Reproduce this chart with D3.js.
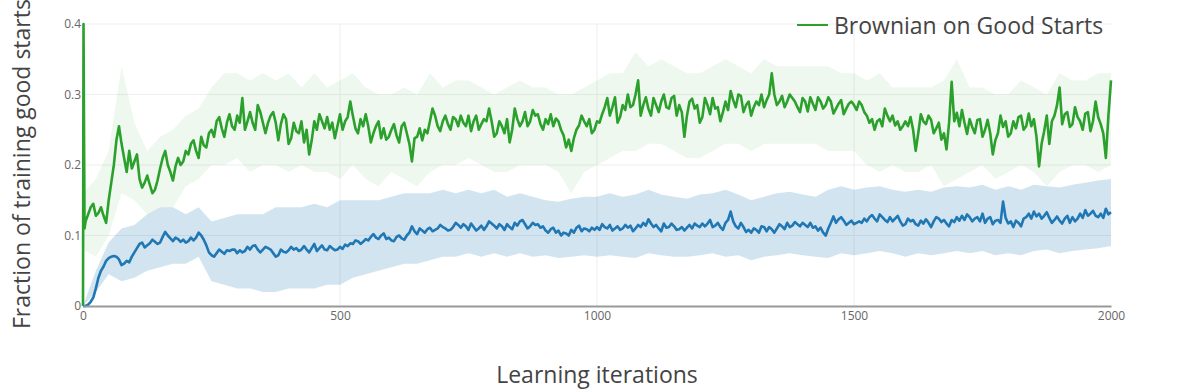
<!DOCTYPE html>
<html>
<head>
<meta charset="utf-8">
<script src="https://cdn.jsdelivr.net/npm/d3@7"></script>
<style>
  body { margin: 0; background: #fff; }
  text { font-family: "Open Sans", sans-serif; }
</style>
</head>
<body>
<div id="chart"></div>
<script>
// first few iterations
const headIters = [0, 1, 3];
const greenHead = [0, 0.4, 0.11];
const blueHead = [0, 0, 0];

// mean values at iterations 10, 20, ... 2000
const greenMean = [
  0.13, 0.145, 0.132, 0.128, 0.15, 0.2, 0.255, 0.21, 0.22, 0.205,
  0.18, 0.175, 0.172, 0.165, 0.195, 0.22, 0.19, 0.198, 0.2, 0.22,
  0.23, 0.22, 0.24, 0.225, 0.25, 0.262, 0.252, 0.26, 0.255, 0.27,
  0.295, 0.262, 0.26, 0.285, 0.26, 0.26, 0.275, 0.235, 0.272, 0.23,
  0.26, 0.245, 0.232, 0.215, 0.262, 0.272, 0.252, 0.25, 0.238, 0.272,
  0.262, 0.29, 0.252, 0.265, 0.272, 0.232, 0.255, 0.238, 0.236, 0.25,
  0.242, 0.255, 0.245, 0.205, 0.24, 0.235, 0.245, 0.28, 0.255, 0.262,
  0.258, 0.268, 0.255, 0.26, 0.27, 0.262, 0.25, 0.265, 0.28, 0.24,
  0.262, 0.245, 0.232, 0.28, 0.255, 0.275, 0.262, 0.27, 0.258, 0.265,
  0.272, 0.266, 0.25, 0.225, 0.22, 0.25, 0.27, 0.255, 0.245, 0.262,
  0.272, 0.295, 0.282, 0.26, 0.285, 0.3, 0.285, 0.32, 0.285, 0.28,
  0.295, 0.275, 0.3, 0.28, 0.298, 0.285, 0.24, 0.29, 0.28, 0.26,
  0.295, 0.272, 0.28, 0.262, 0.29, 0.305, 0.282, 0.298, 0.285, 0.27,
  0.29, 0.3, 0.292, 0.33, 0.285, 0.298, 0.29, 0.295, 0.282, 0.295,
  0.276, 0.287, 0.296, 0.28, 0.296, 0.273, 0.287, 0.272, 0.287, 0.285,
  0.29, 0.275, 0.26, 0.25, 0.265, 0.28, 0.262, 0.256, 0.25, 0.262,
  0.268, 0.22, 0.272, 0.258, 0.264, 0.252, 0.236, 0.222, 0.318, 0.274,
  0.278, 0.244, 0.254, 0.264, 0.24, 0.264, 0.215, 0.245, 0.254, 0.24,
  0.262, 0.268, 0.25, 0.273, 0.265, 0.198, 0.248, 0.23, 0.27, 0.31,
  0.272, 0.254, 0.282, 0.262, 0.273, 0.248, 0.29, 0.258, 0.21, 0.32
];
// in-between readings at iterations 5, 15, ... 1995
const greenMid = [
  0.12, 0.14, 0.128, 0.14, 0.118, 0.175, 0.235, 0.23, 0.19, 0.195,
  0.215, 0.168, 0.185, 0.16, 0.178, 0.21, 0.2, 0.178, 0.21, 0.205,
  0.215, 0.235, 0.21, 0.228, 0.245, 0.24, 0.268, 0.24, 0.272, 0.25,
  0.26, 0.25, 0.275, 0.25, 0.275, 0.245, 0.27, 0.26, 0.258, 0.265,
  0.238, 0.248, 0.262, 0.25, 0.235, 0.25, 0.262, 0.268, 0.26, 0.255,
  0.25, 0.268, 0.27, 0.245, 0.255, 0.255, 0.245, 0.262, 0.252, 0.24,
  0.258, 0.232, 0.26, 0.23, 0.238, 0.252, 0.25, 0.262, 0.27, 0.248,
  0.27, 0.25, 0.265, 0.27, 0.255, 0.248, 0.27, 0.258, 0.262, 0.262,
  0.245, 0.255, 0.265, 0.25, 0.265, 0.262, 0.255, 0.278, 0.272, 0.25,
  0.258, 0.255, 0.262, 0.242, 0.236, 0.238, 0.256, 0.262, 0.265, 0.25,
  0.26, 0.282, 0.27, 0.296, 0.268, 0.278, 0.282, 0.3, 0.27, 0.296,
  0.27, 0.285, 0.29, 0.282, 0.295, 0.27, 0.275, 0.27, 0.294, 0.285,
  0.268, 0.285, 0.295, 0.282, 0.275, 0.278, 0.292, 0.3, 0.275, 0.29,
  0.282, 0.285, 0.282, 0.3, 0.3, 0.29, 0.282, 0.3, 0.29, 0.275,
  0.29, 0.296, 0.278, 0.29, 0.285, 0.29, 0.28, 0.292, 0.28, 0.29,
  0.278, 0.285, 0.27, 0.265, 0.262, 0.255, 0.27, 0.27, 0.262, 0.255,
  0.255, 0.25, 0.245, 0.262, 0.27, 0.245, 0.26, 0.245, 0.26, 0.262,
  0.255, 0.26, 0.265, 0.245, 0.265, 0.25, 0.245, 0.235, 0.27, 0.262,
  0.245, 0.252, 0.27, 0.255, 0.255, 0.24, 0.23, 0.27, 0.262, 0.285,
  0.258, 0.275, 0.258, 0.268, 0.25, 0.275, 0.262, 0.268, 0.245, 0.27
];
const blueMean = [
  0.002, 0.012, 0.04, 0.056, 0.068, 0.071, 0.066, 0.06, 0.062, 0.076,
  0.088, 0.083, 0.089, 0.091, 0.09, 0.105, 0.096, 0.097, 0.091, 0.09,
  0.097, 0.097, 0.1, 0.086, 0.072, 0.075, 0.077, 0.079, 0.08, 0.075,
  0.076, 0.084, 0.085, 0.08, 0.08, 0.082, 0.075, 0.072, 0.077, 0.079,
  0.08, 0.078, 0.085, 0.076, 0.088, 0.082, 0.08, 0.085, 0.079, 0.084,
  0.087, 0.089, 0.093, 0.088, 0.095, 0.098, 0.097, 0.1, 0.095, 0.093,
  0.098, 0.096, 0.1, 0.113, 0.102, 0.107, 0.109, 0.106, 0.11, 0.112,
  0.107, 0.112, 0.115, 0.116, 0.108, 0.112, 0.11, 0.108, 0.12, 0.114,
  0.116, 0.108, 0.112, 0.118, 0.12, 0.116, 0.113, 0.115, 0.111, 0.107,
  0.109, 0.104, 0.1, 0.103, 0.108, 0.111, 0.106, 0.109, 0.111, 0.112,
  0.116, 0.11, 0.107, 0.113, 0.11, 0.111, 0.106, 0.115, 0.118, 0.123,
  0.112, 0.11, 0.117, 0.112, 0.113, 0.109, 0.107, 0.115, 0.117, 0.112,
  0.113, 0.122, 0.114, 0.112, 0.118, 0.134, 0.113, 0.118, 0.105, 0.104,
  0.108, 0.113, 0.106, 0.109, 0.11, 0.113, 0.118, 0.114, 0.116, 0.118,
  0.112, 0.111, 0.107, 0.104, 0.11, 0.127, 0.123, 0.121, 0.118, 0.116,
  0.12, 0.124, 0.126, 0.124, 0.13, 0.122, 0.126, 0.124, 0.12, 0.116,
  0.12, 0.116, 0.121, 0.123, 0.112, 0.126, 0.119, 0.117, 0.122, 0.126,
  0.128, 0.13, 0.12, 0.126, 0.131, 0.124, 0.116, 0.122, 0.148, 0.117,
  0.112, 0.118, 0.124, 0.131, 0.134, 0.131, 0.128, 0.125, 0.122, 0.121,
  0.124, 0.118, 0.12, 0.131, 0.136, 0.131, 0.128, 0.131, 0.138, 0.133
];
const blueMid = [
  0, 0.006, 0.025, 0.05, 0.064, 0.07, 0.07, 0.058, 0.064, 0.07,
  0.082, 0.09, 0.086, 0.094, 0.088, 0.098, 0.1, 0.092, 0.095, 0.094,
  0.092, 0.093, 0.104, 0.094, 0.076, 0.07, 0.08, 0.074, 0.078, 0.08,
  0.079, 0.078, 0.08, 0.086, 0.076, 0.084, 0.08, 0.07, 0.08, 0.076,
  0.084, 0.082, 0.08, 0.08, 0.082, 0.078, 0.086, 0.079, 0.082, 0.08,
  0.081, 0.085, 0.088, 0.092, 0.091, 0.093, 0.102, 0.095, 0.103, 0.097,
  0.092, 0.1, 0.094, 0.104, 0.106, 0.11, 0.104, 0.111, 0.108, 0.115,
  0.11, 0.108, 0.118, 0.111, 0.113, 0.117, 0.107, 0.114, 0.113, 0.117,
  0.11, 0.113, 0.116, 0.109, 0.114, 0.122, 0.11, 0.118, 0.116, 0.113,
  0.104, 0.111, 0.107, 0.104, 0.1, 0.104, 0.114, 0.11, 0.106, 0.108,
  0.108, 0.112, 0.115, 0.11, 0.108, 0.115, 0.114, 0.11, 0.112, 0.114,
  0.117, 0.115, 0.106, 0.111, 0.117, 0.108, 0.112, 0.111, 0.11, 0.114,
  0.117, 0.117, 0.112, 0.118, 0.108, 0.122, 0.12, 0.11, 0.112, 0.108,
  0.11, 0.104, 0.112, 0.112, 0.104, 0.116, 0.109, 0.112, 0.119, 0.113,
  0.115, 0.118, 0.113, 0.111, 0.1, 0.118, 0.118, 0.126, 0.115, 0.121,
  0.118, 0.118, 0.12, 0.129, 0.12, 0.126, 0.119, 0.12, 0.128, 0.114,
  0.124, 0.122, 0.114, 0.117, 0.118, 0.12, 0.124, 0.122, 0.113, 0.119,
  0.121, 0.122, 0.126, 0.124, 0.12, 0.118, 0.126, 0.121, 0.118, 0.125,
  0.12, 0.121, 0.113, 0.126, 0.124, 0.127, 0.124, 0.133, 0.118, 0.127,
  0.117, 0.128, 0.126, 0.124, 0.125, 0.128, 0.135, 0.126, 0.125, 0.13
];

// spread bands at iterations 0, 25, 50, ... 2000
const greenLower = [
  0.08, 0.07, 0.1, 0.16, 0.15, 0.13, 0.14, 0.14, 0.17,
  0.18, 0.2, 0.2, 0.21, 0.19, 0.2, 0.2, 0.19,
  0.2, 0.19, 0.19, 0.18, 0.2, 0.18, 0.17, 0.19,
  0.18, 0.17, 0.19, 0.2, 0.2, 0.21, 0.2, 0.19,
  0.19, 0.2, 0.2, 0.2, 0.19, 0.16, 0.19, 0.2,
  0.21, 0.22, 0.22, 0.23, 0.23, 0.22, 0.21, 0.21,
  0.22, 0.23, 0.23, 0.22, 0.23, 0.23, 0.23, 0.23,
  0.23, 0.22, 0.22, 0.22, 0.2, 0.19, 0.2, 0.19,
  0.19, 0.2, 0.17, 0.18, 0.19, 0.2, 0.18, 0.19,
  0.2, 0.19, 0.17, 0.19, 0.2, 0.2, 0.19, 0.2
];
const greenUpper = [
  0.16, 0.18, 0.22, 0.34, 0.26, 0.22, 0.24, 0.25, 0.27,
  0.28, 0.31, 0.33, 0.33, 0.32, 0.33, 0.32, 0.33,
  0.31, 0.33, 0.31, 0.32, 0.33, 0.31, 0.3, 0.3,
  0.31, 0.3, 0.33, 0.31, 0.32, 0.32, 0.31, 0.3,
  0.31, 0.32, 0.31, 0.31, 0.3, 0.3, 0.31, 0.32,
  0.33, 0.33, 0.36, 0.34, 0.35, 0.34, 0.33, 0.33,
  0.34, 0.35, 0.34, 0.33, 0.35, 0.34, 0.34, 0.34,
  0.34, 0.34, 0.33, 0.33, 0.32, 0.33, 0.31, 0.31,
  0.31, 0.31, 0.32, 0.35, 0.31, 0.31, 0.3, 0.3,
  0.32, 0.31, 0.3, 0.33, 0.32, 0.32, 0.33, 0.33
];
const blueLower = [
  0, 0.02, 0.045, 0.035, 0.04, 0.05, 0.055, 0.06, 0.06,
  0.07, 0.035, 0.03, 0.025, 0.025, 0.02, 0.02, 0.025,
  0.025, 0.025, 0.03, 0.03, 0.04, 0.045, 0.05, 0.055,
  0.06, 0.06, 0.065, 0.07, 0.07, 0.075, 0.07, 0.075,
  0.07, 0.075, 0.07, 0.072, 0.068, 0.07, 0.072, 0.07,
  0.072, 0.07, 0.068, 0.075, 0.072, 0.07, 0.07, 0.072,
  0.075, 0.07, 0.072, 0.065, 0.07, 0.072, 0.075, 0.072,
  0.07, 0.068, 0.075, 0.072, 0.075, 0.078, 0.075, 0.07,
  0.075, 0.072, 0.075, 0.078, 0.075, 0.078, 0.072, 0.075,
  0.072, 0.078, 0.08, 0.075, 0.078, 0.08, 0.082, 0.085
];
const blueUpper = [
  0, 0.05, 0.09, 0.11, 0.115, 0.13, 0.14, 0.14, 0.13,
  0.14, 0.12, 0.125, 0.13, 0.13, 0.13, 0.14, 0.14,
  0.14, 0.145, 0.14, 0.15, 0.15, 0.15, 0.15, 0.155,
  0.16, 0.16, 0.16, 0.165, 0.16, 0.165, 0.16, 0.165,
  0.155, 0.16, 0.155, 0.15, 0.148, 0.152, 0.155, 0.155,
  0.16, 0.155, 0.158, 0.165, 0.158, 0.155, 0.152, 0.158,
  0.16, 0.165, 0.158, 0.15, 0.155, 0.16, 0.162, 0.158,
  0.155, 0.165, 0.17, 0.165, 0.168, 0.17, 0.165, 0.162,
  0.165, 0.162, 0.168, 0.17, 0.168, 0.172, 0.165, 0.17,
  0.165, 0.172, 0.17, 0.168, 0.172, 0.175, 0.178, 0.18
];

const xTicks = [0, 500, 1000, 1500, 2000];
const yTicks = [0, 0.1, 0.2, 0.3, 0.4];
const legendLabel = "Brownian on Good Starts";

const width = 1196, height = 391;
const margin = {top: 24, right: 85, bottom: 85, left: 83};
const green = "#2ca02c", blue = "#1f77b4";

const x = d3.scaleLinear().domain([0, 2000]).range([margin.left, width - margin.right]);
const y = d3.scaleLinear().domain([0, 0.4]).range([height - margin.bottom, margin.top]);

// head points, then each 10-iteration block: mid reading at +5, mean at +10
function series(head, mid, mean) {
  const pts = head.map((v, i) => [headIters[i], v]);
  mean.forEach((v, i) => {
    pts.push([i * 10 + 5, mid[i]]);
    pts.push([i * 10 + 10, v]);
  });
  return pts;
}
const greenPts = series(greenHead, greenMid, greenMean);
const bluePts = series(blueHead, blueMid, blueMean);
const bandPts = (lo, hi) => lo.map((v, i) => ({it: i * 25, lo: v, hi: hi[i]}));

const svg = d3.select("#chart").append("svg")
  .attr("width", width)
  .attr("height", height);

// grid
svg.append("g")
  .selectAll("line")
  .data(yTicks.slice(1))
  .join("line")
  .attr("x1", margin.left).attr("x2", width - margin.right)
  .attr("y1", d => y(d)).attr("y2", d => y(d))
  .attr("stroke", "#eee").attr("stroke-width", 1);
svg.append("g")
  .selectAll("line")
  .data(xTicks.slice(1, -1))
  .join("line")
  .attr("x1", d => x(d)).attr("x2", d => x(d))
  .attr("y1", margin.top).attr("y2", height - margin.bottom)
  .attr("stroke", "#eee").attr("stroke-width", 1);

const area = d3.area()
  .x(d => x(d.it))
  .y0(d => y(d.lo))
  .y1(d => y(d.hi));

svg.append("path")
  .datum(bandPts(blueLower, blueUpper))
  .attr("d", area)
  .attr("fill", "rgba(31,119,180,0.2)");
svg.append("path")
  .datum(bandPts(greenLower, greenUpper))
  .attr("d", area)
  .attr("fill", "rgba(44,160,44,0.08)");

const line = d3.line().x(d => x(d[0])).y(d => y(d[1]));

svg.append("path")
  .datum(bluePts)
  .attr("d", line)
  .attr("fill", "none")
  .attr("stroke", blue)
  .attr("stroke-width", 2.6)
  .attr("stroke-linejoin", "round");
svg.append("path")
  .datum(greenPts)
  .attr("d", line)
  .attr("fill", "none")
  .attr("stroke", green)
  .attr("stroke-width", 2.6)
  .attr("stroke-linejoin", "round");

// axes
const xAxis = svg.append("g")
  .attr("transform", `translate(0,${y(0)})`)
  .call(d3.axisBottom(x).tickValues(xTicks).tickFormat(d3.format("d")).tickSize(0).tickPadding(5));
xAxis.select(".domain").attr("stroke", "#999").attr("stroke-width", 2);
xAxis.selectAll("text").attr("fill", "#666").style("font-size", "12px")
  .style("font-family", "'Open Sans', sans-serif");

const yAxis = svg.append("g")
  .attr("transform", `translate(${margin.left},0)`)
  .call(d3.axisLeft(y).tickValues(yTicks).tickFormat(d3.format("")).tickSize(0).tickPadding(2));
yAxis.select(".domain").remove();
yAxis.selectAll("text").attr("fill", "#666").style("font-size", "12px")
  .style("font-family", "'Open Sans', sans-serif");

// titles
svg.append("text")
  .attr("x", (margin.left + width - margin.right) / 2)
  .attr("y", 383)
  .attr("text-anchor", "middle")
  .attr("fill", "#444")
  .style("font-size", "23px")
  .text("Learning iterations");

svg.append("text")
  .attr("transform", "translate(30,329) rotate(-90)")
  .attr("text-anchor", "start")
  .attr("fill", "#444")
  .style("font-size", "23px")
  .text("Fraction of training good starts");

// legend
const legend = svg.append("g").attr("transform", "translate(797,25)");
legend.append("line")
  .attr("x1", 0).attr("x2", 31)
  .attr("stroke", green).attr("stroke-width", 2);
legend.append("text")
  .attr("x", 37).attr("y", 9)
  .attr("fill", "#444")
  .style("font-size", "23px")
  .text(legendLabel);
</script>
</body>
</html>
